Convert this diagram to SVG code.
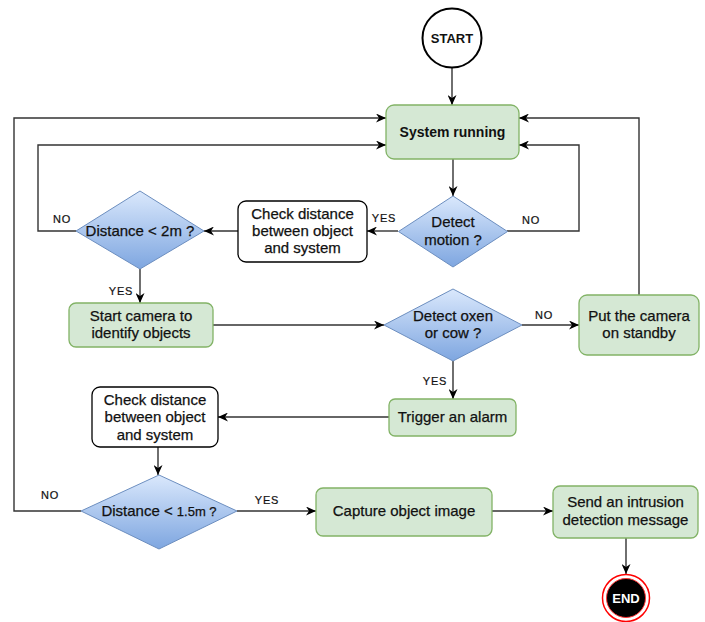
<svg xmlns="http://www.w3.org/2000/svg" width="705" height="622" viewBox="0 0 705 622">
<defs>
<linearGradient id="dg" x1="0" y1="0" x2="0" y2="1">
<stop offset="0" stop-color="#dae8fc"/>
<stop offset="1" stop-color="#7ea6e0"/>
</linearGradient>
<marker id="ar" markerUnits="userSpaceOnUse" markerWidth="11" markerHeight="9" refX="10" refY="4.5" orient="auto">
<path d="M0,0 L10,4.5 L0,9 L3,4.5 Z" fill="#000"/>
</marker>
<style>
.t{font-family:"Liberation Sans",Arial,sans-serif;font-size:15px;fill:#111;stroke:#111;stroke-width:0.25px;text-anchor:middle}
.b{font-weight:bold;stroke-width:0}
.l{font-family:"Liberation Sans",Arial,sans-serif;font-size:11px;fill:#111;stroke:#111;stroke-width:0.2px;text-anchor:middle;letter-spacing:0.8px}
.g{fill:#d5e8d4;stroke:#82b366;stroke-width:1.3}
.w{fill:#fff;stroke:#000;stroke-width:1.3}
.d{fill:url(#dg);stroke:#6c8ebf;stroke-width:1}
.c{fill:none;stroke:#333;stroke-width:1.4;marker-end:url(#ar)}
</style>
</defs>
<rect width="705" height="622" fill="#fff"/>
<g id="connectors">
<path class="c" d="M452,68 L452,105"/>
<path class="c" d="M453,159 L453,196"/>
<path class="c" d="M398,231 L367,231"/>
<path class="c" d="M507,231 L579,231 L579,145 L519,145"/>
<path class="c" d="M238,231 L204,231"/>
<path class="c" d="M76,231 L38,231 L38,145 L386,145"/>
<path class="c" d="M140,269 L140,303"/>
<path class="c" d="M213,325 L384,325"/>
<path class="c" d="M522,325 L579,325"/>
<path class="c" d="M639,295 L639,118 L519,118"/>
<path class="c" d="M453,361 L453,399"/>
<path class="c" d="M389,417 L218,417"/>
<path class="c" d="M158,447 L158,475"/>
<path class="c" d="M81,511 L14,511 L14,118 L386,118"/>
<path class="c" d="M237,511 L316,511"/>
<path class="c" d="M492,511 L553,511"/>
<path class="c" d="M626,538 L626,574"/>
<text class="l" x="384" y="222">YES</text>
<text class="l" x="531" y="224">NO</text>
<text class="l" x="62" y="223">NO</text>
<text class="l" x="121" y="295">YES</text>
<text class="l" x="544" y="319">NO</text>
<text class="l" x="435" y="385">YES</text>
<text class="l" x="50" y="499">NO</text>
<text class="l" x="267" y="504">YES</text>
</g>
<g id="start">
<circle cx="452" cy="38" r="29.5" fill="#fff" stroke="#000" stroke-width="2"/>
<text class="t b" x="452" y="43" style="font-size:13px">START</text>
</g>
<g id="system-running">
<rect class="g" x="386" y="105" width="133" height="54" rx="8"/>
<text class="t b" x="452.5" y="137" style="font-size:14px">System running</text>
</g>
<g id="detect-motion">
<polygon class="d" points="453,196 507.5,231.5 453,267 398.5,231.5"/>
<text class="t" x="453" y="227">Detect</text>
<text class="t" x="453" y="245">motion ?</text>
</g>
<g id="check-distance-1">
<rect class="w" x="238" y="201" width="129" height="61" rx="8"/>
<text class="t" x="302.5" y="219">Check distance</text>
<text class="t" x="302.5" y="236">between object</text>
<text class="t" x="302.5" y="253">and system</text>
</g>
<g id="distance-2m">
<polygon class="d" points="140,191 204,231 140,269 76,231"/>
<text class="t" x="140" y="236">Distance &lt; 2m ?</text>
</g>
<g id="start-camera">
<rect class="g" x="69" y="303" width="144" height="44" rx="7"/>
<text class="t" x="141" y="321">Start camera to</text>
<text class="t" x="141" y="338">identify objects</text>
</g>
<g id="detect-oxen">
<polygon class="d" points="453,289 522,325 453,361 384,325"/>
<text class="t" x="453" y="321">Detect oxen</text>
<text class="t" x="453" y="338">or cow ?</text>
</g>
<g id="put-camera-standby">
<rect class="g" x="579" y="295" width="120" height="60" rx="8"/>
<text class="t" x="639" y="321">Put the camera</text>
<text class="t" x="639" y="338">on standby</text>
</g>
<g id="trigger-alarm">
<rect class="g" x="389" y="399" width="127" height="37" rx="6"/>
<text class="t" x="452.5" y="422">Trigger an alarm</text>
</g>
<g id="check-distance-2">
<rect class="w" x="92" y="387" width="126" height="60" rx="8"/>
<text class="t" x="155" y="405">Check distance</text>
<text class="t" x="155" y="422">between object</text>
<text class="t" x="155" y="440">and system</text>
</g>
<g id="distance-1-5m">
<polygon class="d" points="159,475 237,511 159,549 81,511"/>
<text class="t" x="159" y="516">Distance &lt; <tspan style="font-size:13px">1.5m ?</tspan></text>
</g>
<g id="capture-image">
<rect class="g" x="316" y="488" width="176" height="48" rx="7"/>
<text class="t" x="404" y="516">Capture object image</text>
</g>
<g id="send-message">
<rect class="g" x="553" y="486" width="145" height="52" rx="7"/>
<text class="t" x="625.5" y="507">Send an intrusion</text>
<text class="t" x="625.5" y="525">detection message</text>
</g>
<g id="end">
<circle cx="626" cy="598" r="23.5" fill="#fff" stroke="#ff0000" stroke-width="1.5"/>
<circle cx="626" cy="598" r="19.5" fill="#000" stroke="#ff3333" stroke-width="1"/>
<text class="t b" x="626" y="603" style="font-size:13px;fill:#fff">END</text>
</g>
</svg>
